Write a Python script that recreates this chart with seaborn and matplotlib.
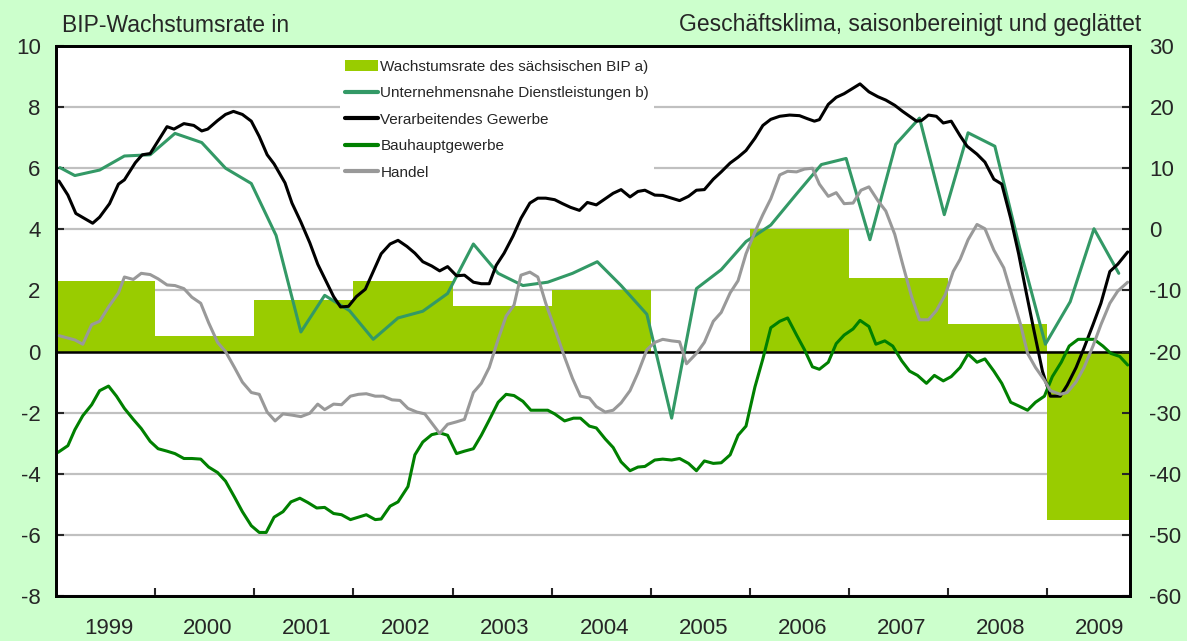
import seaborn as sns
import matplotlib.pyplot as plt
import numpy as np
from matplotlib.patches import Patch
from matplotlib.lines import Line2D
from matplotlib.ticker import FixedLocator, FixedFormatter, NullFormatter

sns.set_style('ticks')
plt.rcParams['font.family'] = ['Liberation Sans', 'DejaVu Sans']
plt.rcParams['axes.unicode_minus'] = False

# annual GDP growth rate of Saxony (left axis, %)
bip_years = [1999, 2000, 2001, 2002, 2003, 2004, 2005, 2006, 2007, 2008, 2009]
bip_growth = [2.3, 0.5, 1.7, 2.3, 1.5, 2.0, 0.0, 4.0, 2.4, 0.9, -5.5]

# business climate balances (right axis), time in decimal years
t_dienst = [1999.04, 1999.19, 1999.44, 1999.69, 1999.95, 2000.20, 2000.47, 2000.71, 2000.97,
            2001.22, 2001.47, 2001.71, 2001.96, 2002.20, 2002.45, 2002.70, 2002.95, 2003.21,
            2003.46, 2003.71, 2003.96, 2004.21, 2004.46, 2004.70, 2004.96, 2005.21, 2005.46,
            2005.71, 2005.96, 2006.21, 2006.47, 2006.72, 2006.97, 2007.21, 2007.47, 2007.71,
            2007.96, 2008.20, 2008.47, 2008.72, 2008.98, 2009.23, 2009.47, 2009.72]
dienst = [10.1, 8.8, 9.7, 12.0, 12.2, 15.7, 14.2, 10.0, 7.5,
          -1.0, -16.8, -10.8, -13.3, -18.0, -14.5, -13.4, -10.5, -2.4,
          -7.2, -9.2, -8.65, -7.2, -5.3, -9.2, -13.9, -30.9, -9.7,
          -6.6, -2.0, 0.7, 5.8, 10.6, 11.6, -1.7, 13.9, 18.2,
          2.4, 15.8, 13.6, -3.0, -18.8, -11.85, 0.1, -7.2]

t_verarb = [1999.03, 1999.12, 1999.20, 1999.37, 1999.44, 1999.54, 1999.63, 1999.69, 1999.80,
            1999.87, 1999.95, 2000.12, 2000.19, 2000.29, 2000.39, 2000.47, 2000.53, 2000.63,
            2000.71, 2000.79, 2000.88, 2000.97, 2001.05, 2001.13, 2001.20, 2001.31, 2001.38,
            2001.47, 2001.56, 2001.64, 2001.80, 2001.87, 2001.95, 2002.03, 2002.12, 2002.20,
            2002.28, 2002.37, 2002.45, 2002.54, 2002.62, 2002.70, 2002.79, 2002.87, 2002.95,
            2003.04, 2003.12, 2003.21, 2003.29, 2003.37, 2003.44, 2003.52, 2003.61, 2003.69,
            2003.78, 2003.86, 2003.94, 2004.03, 2004.11, 2004.19, 2004.28, 2004.36, 2004.45,
            2004.54, 2004.62, 2004.70, 2004.79, 2004.87, 2004.94, 2005.04, 2005.12, 2005.21,
            2005.29, 2005.38, 2005.46, 2005.54, 2005.63, 2005.71, 2005.80, 2005.88, 2005.96,
            2006.05, 2006.13, 2006.21, 2006.30, 2006.40, 2006.50, 2006.58, 2006.65, 2006.70,
            2006.79, 2006.87, 2006.95, 2007.04, 2007.11, 2007.20, 2007.29, 2007.37, 2007.46,
            2007.54, 2007.61, 2007.68, 2007.73, 2007.80, 2007.88, 2007.95, 2008.03, 2008.12,
            2008.19, 2008.29, 2008.37, 2008.46, 2008.54, 2008.63, 2008.71, 2008.78, 2008.86,
            2008.95, 2009.03, 2009.13, 2009.20, 2009.29, 2009.37, 2009.46, 2009.54, 2009.63,
            2009.71, 2009.81]
verarb = [7.9, 5.6, 2.6, 1.0, 2.0, 4.2, 7.4, 8.1, 10.9,
          12.2, 12.4, 16.8, 16.4, 17.3, 17.0, 16.1, 16.4, 17.8,
          18.8, 19.3, 18.8, 17.7, 15.2, 12.2, 10.7, 7.6, 4.3,
          1.2, -2.2, -5.7, -11.0, -12.7, -12.6, -11.0, -9.8, -6.9,
          -4.0, -2.4, -1.8, -2.8, -3.9, -5.3, -6.0, -6.8, -6.1,
          -7.6, -7.5, -8.65, -8.9, -8.9, -5.9, -3.9, -1.1, 1.8,
          4.3, 5.1, 5.1, 4.85, 4.2, 3.6, 3.1, 4.4, 4.0,
          5.0, 5.9, 6.5, 5.3, 6.2, 6.4, 5.6, 5.55, 5.1,
          4.7, 5.4, 6.4, 6.5, 8.2, 9.4, 10.85, 11.8, 12.9,
          14.9, 17.0, 18.0, 18.5, 18.7, 18.6, 18.1, 17.7, 17.95,
          20.45, 21.6, 22.2, 23.1, 23.8, 22.5, 21.7, 21.15, 20.3,
          19.3, 18.5, 17.7, 17.8, 18.7, 18.5, 17.4, 17.7, 15.3,
          13.6, 12.3, 11.0, 8.2, 7.4, 1.8, -4.0, -9.8, -16.2,
          -23.2, -27.3, -27.3, -25.5, -22.6, -19.4, -15.6, -12.1, -6.9,
          -5.7, -3.7]

t_bau = [1999.02, 1999.12, 1999.19, 1999.27, 1999.36, 1999.44, 1999.53, 1999.61, 1999.69,
         1999.78, 1999.86, 1999.95, 2000.03, 2000.12, 2000.20, 2000.29, 2000.37, 2000.46,
         2000.54, 2000.63, 2000.71, 2000.80, 2000.88, 2000.97, 2001.05, 2001.12, 2001.20,
         2001.29, 2001.37, 2001.46, 2001.54, 2001.63, 2001.71, 2001.80, 2001.88, 2001.97,
         2002.05, 2002.13, 2002.22, 2002.28, 2002.37, 2002.45, 2002.55, 2002.62, 2002.70,
         2002.79, 2002.87, 2002.95, 2003.04, 2003.12, 2003.21, 2003.29, 2003.37, 2003.46,
         2003.54, 2003.62, 2003.71, 2003.79, 2003.88, 2003.96, 2004.03, 2004.13, 2004.22,
         2004.29, 2004.38, 2004.45, 2004.54, 2004.62, 2004.70, 2004.79, 2004.87, 2004.94,
         2005.04, 2005.12, 2005.21, 2005.29, 2005.38, 2005.46, 2005.54, 2005.63, 2005.71,
         2005.80, 2005.88, 2005.96, 2006.05, 2006.13, 2006.21, 2006.30, 2006.38, 2006.47,
         2006.55, 2006.63, 2006.70, 2006.79, 2006.87, 2006.95, 2007.04, 2007.11, 2007.20,
         2007.27, 2007.36, 2007.44, 2007.53, 2007.61, 2007.69, 2007.78, 2007.86, 2007.95,
         2008.03, 2008.12, 2008.20, 2008.29, 2008.37, 2008.46, 2008.54, 2008.63, 2008.71,
         2008.80, 2008.88, 2008.97, 2009.05, 2009.14, 2009.22, 2009.31, 2009.39, 2009.47,
         2009.56, 2009.64, 2009.73, 2009.81]
bau = [-36.5, -35.4, -32.8, -30.5, -28.7, -26.4, -25.65, -27.3, -29.3,
       -31.1, -32.6, -34.7, -35.9, -36.3, -36.7, -37.5, -37.5, -37.6,
       -38.9, -39.8, -41.2, -43.8, -46.2, -48.5, -49.6, -49.6, -47.1,
       -46.2, -44.6, -44.0, -44.7, -45.6, -45.5, -46.5, -46.7, -47.5,
       -47.1, -46.7, -47.5, -47.4, -45.3, -44.6, -42.1, -36.9, -34.8,
       -33.6, -33.3, -33.7, -36.7, -36.3, -35.9, -33.7, -31.2, -28.3,
       -27.0, -27.2, -28.15, -29.6, -29.6, -29.6, -30.2, -31.35, -30.9,
       -30.9, -32.2, -32.5, -34.3, -35.7, -38.05, -39.5, -38.9, -38.8,
       -37.75, -37.6, -37.75, -37.5, -38.3, -39.5, -37.9, -38.3, -38.2,
       -36.9, -33.7, -32.2, -25.8, -21.2, -16.1, -15.05, -14.5, -17.3,
       -19.7, -22.5, -22.9, -21.75, -18.7, -17.3, -16.3, -14.9, -15.9,
       -18.8, -18.25, -19.1, -21.5, -23.2, -23.9, -25.2, -23.9, -24.8,
       -24.1, -22.6, -20.4, -21.75, -21.2, -23.2, -25.2, -28.3, -28.9,
       -29.6, -28.3, -27.3, -24.1, -21.75, -19.1, -18.0, -18.0, -18.0,
       -19.1, -20.3, -20.8, -22.2]

t_handel = [1999.03, 1999.10, 1999.19, 1999.27, 1999.36, 1999.44, 1999.53, 1999.63, 1999.69,
            1999.78, 1999.86, 1999.95, 2000.03, 2000.12, 2000.20, 2000.29, 2000.37, 2000.46,
            2000.54, 2000.63, 2000.71, 2000.80, 2000.88, 2000.97, 2001.05, 2001.13, 2001.21,
            2001.29, 2001.38, 2001.47, 2001.56, 2001.64, 2001.71, 2001.80, 2001.88, 2001.97,
            2002.05, 2002.13, 2002.22, 2002.30, 2002.39, 2002.47, 2002.55, 2002.64, 2002.72,
            2002.80, 2002.87, 2002.95, 2003.04, 2003.12, 2003.21, 2003.29, 2003.37, 2003.46,
            2003.54, 2003.62, 2003.69, 2003.78, 2003.86, 2003.94, 2004.03, 2004.13, 2004.21,
            2004.29, 2004.38, 2004.45, 2004.54, 2004.62, 2004.70, 2004.79, 2004.87, 2004.96,
            2005.04, 2005.12, 2005.21, 2005.29, 2005.36, 2005.46, 2005.54, 2005.63, 2005.71,
            2005.80, 2005.88, 2005.96, 2006.05, 2006.13, 2006.21, 2006.30, 2006.38, 2006.47,
            2006.55, 2006.63, 2006.70, 2006.79, 2006.87, 2006.95, 2007.04, 2007.12, 2007.20,
            2007.29, 2007.37, 2007.46, 2007.54, 2007.63, 2007.71, 2007.80, 2007.88, 2007.97,
            2008.05, 2008.12, 2008.20, 2008.29, 2008.37, 2008.46, 2008.56, 2008.64, 2008.73,
            2008.80, 2008.88, 2008.97, 2009.03, 2009.13, 2009.20, 2009.29, 2009.37, 2009.46,
            2009.54, 2009.63, 2009.71, 2009.81]
handel = [-17.4, -17.7, -18.1, -18.8, -15.6, -15.05, -12.7, -10.4, -7.8,
          -8.2, -7.2, -7.4, -8.1, -9.1, -9.2, -9.7, -11.1, -12.1,
          -15.3, -18.5, -20.0, -22.6, -25.0, -26.7, -27.0, -29.9, -31.35,
          -30.2, -30.4, -30.65, -30.1, -28.6, -29.5, -28.6, -28.7, -27.3,
          -27.0, -26.9, -27.3, -27.3, -27.9, -28.0, -29.3, -29.9, -30.2,
          -31.9, -33.4, -31.9, -31.5, -31.1, -26.7, -25.2, -22.6, -18.0,
          -14.2, -12.4, -7.5, -7.0, -7.8, -12.1, -16.2, -20.9, -24.4,
          -27.3, -27.6, -29.0, -29.9, -29.6, -28.4, -26.4, -23.5, -19.7,
          -18.5, -18.0, -18.25, -18.4, -22.0, -20.3, -18.5, -15.05, -13.6,
          -10.4, -8.4, -4.0, -0.45, 2.4, 5.0, 8.9, 9.5, 9.4,
          9.86, 10.0, 7.4, 5.4, 6.0, 4.2, 4.3, 6.4, 6.95,
          4.7, 3.0, -0.8, -5.7, -11.0, -14.8, -14.8, -13.3, -10.7,
          -6.9, -4.9, -1.7, 0.8, 0.1, -3.4, -6.3, -10.7, -15.6,
          -20.3, -22.6, -24.7, -26.4, -27.0, -26.7, -24.95, -22.6, -19.1,
          -15.6, -12.1, -10.1, -8.65]

labels = ['Wachstumsrate des sächsischen BIP a)',
          'Unternehmensnahe Dienstleistungen b)',
          'Verarbeitendes Gewerbe',
          'Bauhauptgewerbe',
          'Handel']
year_labels = [str(y) for y in range(1999, 2010)]

x_start = 1999
x_end = 1999 + 130 / 12  # Jan 1999 .. Oct 2009, monthly categories

bar_color = '#99CC00'
colors = ['#339966', '#000000', '#008000', '#999999']

fig = plt.figure(figsize=(11.87, 6.41), dpi=100)
fig.patch.set_facecolor('#CCFFCC')
ax = fig.add_axes([56 / 1187, 45 / 641, 1074 / 1187, 550 / 641])
ax.set_facecolor('white')

# GDP bars, one per year (last year only runs to the axis end)
widths = [min(1, x_end - y) for y in bip_years]
ax.bar(bip_years, bip_growth, width=widths, align='edge', color=bar_color,
       linewidth=0, zorder=1)
ax.axhline(0, color='black', lw=1.8, zorder=2.5)

ax.set_xlim(x_start, x_end)
ax.set_ylim(-8, 10)
ax.set_yticks(np.arange(-8, 11, 2))
ax.set_axisbelow(True)
ax.yaxis.grid(True, color='#C0C0C0', lw=1.6)
ax.xaxis.grid(False)

# year boundaries as ticks, labels centred in each year
ax.xaxis.set_major_locator(FixedLocator(list(range(2000, 2010))))
ax.xaxis.set_major_formatter(NullFormatter())
ax.xaxis.set_minor_locator(FixedLocator([y + 0.53 for y in range(1999, 2010)]))
ax.xaxis.set_minor_formatter(FixedFormatter(year_labels))
ax.tick_params(axis='x', which='major', direction='in', length=6, width=1.5)
ax.tick_params(axis='x', which='minor', length=0, pad=16, labelsize=16)
ax.tick_params(axis='y', direction='in', length=6, width=1.5, pad=11, labelsize=16)

# business climate lines on the right axis
ax2 = ax.twinx()
ax2.set_ylim(-60, 30)
ax2.set_yticks(np.arange(-60, 31, 10))
ax2.tick_params(axis='y', direction='in', length=6, width=1.5, pad=14, labelsize=16)

series = [(t_dienst, dienst), (t_verarb, verarb), (t_bau, bau), (t_handel, handel)]
for (tt, vals), col in zip(series, colors):
    sns.lineplot(x=tt, y=vals, ax=ax2, color=col, lw=2.2, sort=False,
                 estimator=None, legend=False)
ax2.set_xlim(x_start, x_end)
ax2.set_xlabel('')
ax2.set_ylabel('')

for a in (ax, ax2):
    for s in a.spines.values():
        s.set_color('black')
        s.set_linewidth(2)

handles = [Patch(facecolor=bar_color, edgecolor='none')]
handles += [Line2D([], [], color=c, lw=3) for c in colors]
leg = ax2.legend(handles, labels, loc='upper left', bbox_to_anchor=(0.2644, 0.9836),
                 borderaxespad=0, fontsize=11, handlelength=2.2, handletextpad=0.15,
                 labelspacing=0.82, borderpad=0.3, frameon=True, fancybox=False,
                 framealpha=1)
leg.get_frame().set_facecolor('white')
leg.get_frame().set_edgecolor('none')

fig.text(62 / 1187, 1 - 25 / 641, 'BIP-Wachstumsrate in', ha='left', va='center',
         fontsize=16.5)
fig.text(1141 / 1187, 1 - 25 / 641, 'Geschäftsklima, saisonbereinigt und geglättet',
         ha='right', va='center', fontsize=16.5)

fig.savefig('out.png', dpi=100, facecolor=fig.get_facecolor())
